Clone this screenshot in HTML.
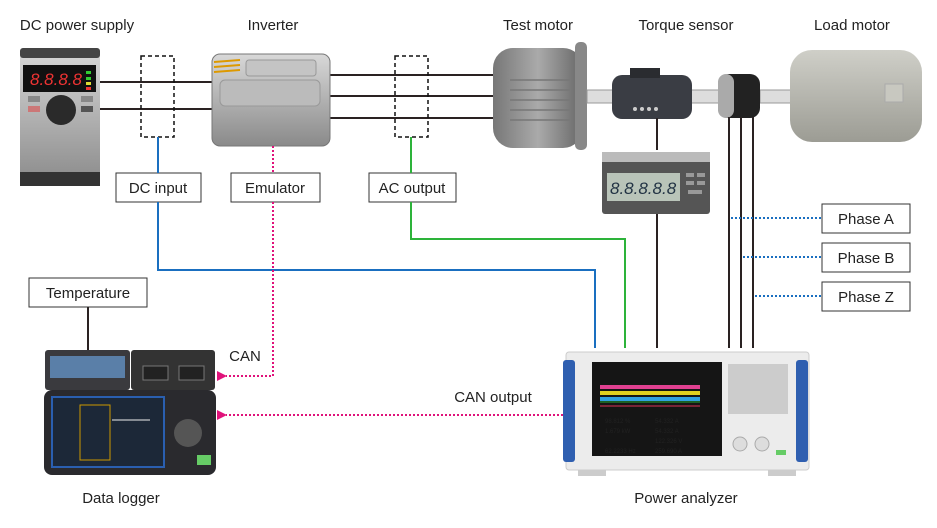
<!DOCTYPE html>
<html><head><meta charset="utf-8"><style>
html,body{margin:0;padding:0;background:#fff}
svg{display:block}
text{font-family:"Liberation Sans",Arial,sans-serif;fill:#222}
</style></head><body>
<svg width="937" height="528" viewBox="0 0 937 528" xmlns="http://www.w3.org/2000/svg">
<defs>
<linearGradient id="gray" x1="0" y1="0" x2="0" y2="1"><stop offset="0" stop-color="#d8d8d8"/><stop offset="1" stop-color="#8a8a8a"/></linearGradient>
<linearGradient id="motor" x1="0" y1="0" x2="1" y2="0"><stop offset="0" stop-color="#777"/><stop offset="0.5" stop-color="#aaa"/><stop offset="1" stop-color="#666"/></linearGradient>
<linearGradient id="load" x1="0" y1="0" x2="0" y2="1"><stop offset="0" stop-color="#cfcfc8"/><stop offset="1" stop-color="#9c9c94"/></linearGradient>
<marker id="ap" markerWidth="10" markerHeight="10" refX="1" refY="5" orient="auto" markerUnits="userSpaceOnUse"><path d="M10,0 L0,5 L10,10 Z" fill="#e0127a"/></marker>
</defs>

<g font-size="15">
<text x="77" y="30" text-anchor="middle">DC power supply</text>
<text x="273" y="30" text-anchor="middle">Inverter</text>
<text x="538" y="30" text-anchor="middle">Test motor</text>
<text x="686" y="30" text-anchor="middle">Torque sensor</text>
<text x="852" y="30" text-anchor="middle">Load motor</text>
<text x="121" y="503" text-anchor="middle">Data logger</text>
<text x="686" y="503" text-anchor="middle">Power analyzer</text>
</g>

<g stroke="#2a2222" stroke-width="2">
<line x1="100" y1="82" x2="215" y2="82"/><line x1="100" y1="109" x2="215" y2="109"/>
<line x1="328" y1="75" x2="497" y2="75"/><line x1="328" y1="96" x2="497" y2="96"/><line x1="328" y1="118" x2="497" y2="118"/>
</g>

<rect x="20" y="48" width="80" height="138" rx="4" fill="url(#gray)"/>
<rect x="20" y="48" width="80" height="10" rx="3" fill="#444"/>
<rect x="23" y="65" width="73" height="27" fill="#111"/>
<text x="30" y="85" font-size="17" style="fill:#e33" font-style="italic">8.8.8.8</text>
<rect x="86" y="71" width="5" height="3" fill="#3c3"/><rect x="86" y="77" width="5" height="3" fill="#3c3"/><rect x="86" y="82" width="5" height="3" fill="#dd3"/><rect x="86" y="87" width="5" height="3" fill="#e33"/>
<rect x="28" y="96" width="12" height="6" fill="#888"/><rect x="28" y="106" width="12" height="6" fill="#c77"/>
<rect x="81" y="96" width="12" height="6" fill="#888"/><rect x="81" y="106" width="12" height="6" fill="#555"/>
<circle cx="61" cy="110" r="15" fill="#2a2a2a"/>
<rect x="20" y="172" width="80" height="14" fill="#333"/>

<rect x="212" y="54" width="118" height="92" rx="8" fill="url(#gray)" stroke="#777"/>
<rect x="220" y="80" width="100" height="26" rx="5" fill="#bbb" stroke="#999"/>
<rect x="246" y="60" width="70" height="16" rx="3" fill="#c4c4c4" stroke="#999"/>
<g stroke="#d90" stroke-width="2"><line x1="214" y1="62" x2="240" y2="60"/><line x1="214" y1="67" x2="240" y2="65"/><line x1="214" y1="72" x2="240" y2="70"/></g>

<g fill="none" stroke="#111" stroke-width="1.5" stroke-dasharray="4,3">
<rect x="141" y="56" width="33" height="81"/><rect x="395" y="56" width="33" height="81"/>
</g>

<rect x="493" y="48" width="90" height="100" rx="20" fill="url(#motor)"/>
<g stroke="#777" stroke-width="1.5"><line x1="510" y1="80" x2="570" y2="80"/><line x1="510" y1="90" x2="570" y2="90"/><line x1="510" y1="100" x2="570" y2="100"/><line x1="510" y1="110" x2="570" y2="110"/><line x1="510" y1="120" x2="570" y2="120"/></g>
<rect x="575" y="42" width="12" height="108" rx="5" fill="#888"/>
<rect x="587" y="90" width="28" height="13" fill="#ddd" stroke="#999"/>
<rect x="690" y="90" width="30" height="13" fill="#ddd" stroke="#999"/>
<rect x="760" y="90" width="32" height="13" fill="#ddd" stroke="#999"/>
<rect x="612" y="75" width="80" height="44" rx="10" fill="#3a3d44"/>
<rect x="630" y="68" width="30" height="10" fill="#2a2c30"/>
<g fill="#ccc"><circle cx="635" cy="109" r="2"/><circle cx="642" cy="109" r="2"/><circle cx="649" cy="109" r="2"/><circle cx="656" cy="109" r="2"/></g>
<rect x="718" y="74" width="42" height="44" rx="10" fill="#222"/>
<rect x="718" y="74" width="16" height="44" rx="8" fill="#aaa"/>
<rect x="790" y="50" width="132" height="92" rx="22" fill="url(#load)"/>
<rect x="885" y="84" width="18" height="18" fill="#c8c8c0" stroke="#aaa"/>

<g stroke="#2a2222" stroke-width="2">
<line x1="657" y1="118" x2="657" y2="150"/><line x1="657" y1="213" x2="657" y2="348"/>
<line x1="729" y1="117" x2="729" y2="348"/><line x1="741" y1="117" x2="741" y2="348"/><line x1="753" y1="117" x2="753" y2="348"/>
</g>
<rect x="602" y="152" width="108" height="62" rx="3" fill="#555"/>
<rect x="602" y="152" width="108" height="10" fill="#bbb"/>
<rect x="607" y="173" width="73" height="28" fill="#b9c4b9"/>
<text x="610" y="194" font-size="17" font-style="italic" style="fill:#234">8.8.8.8.8</text>
<g fill="#999"><rect x="686" y="173" width="8" height="4"/><rect x="697" y="173" width="8" height="4"/><rect x="686" y="181" width="8" height="4"/><rect x="697" y="181" width="8" height="4"/><rect x="688" y="190" width="14" height="4"/></g>

<g stroke="#1a6fc0" stroke-width="2" stroke-dasharray="2,2">
<line x1="731" y1="218" x2="822" y2="218"/><line x1="743" y1="257" x2="822" y2="257"/><line x1="755" y1="296" x2="822" y2="296"/>
</g>
<g fill="#fff" stroke="#333" stroke-width="1">
<rect x="822" y="204" width="88" height="29"/><rect x="822" y="243" width="88" height="29"/><rect x="822" y="282" width="88" height="29"/>
<rect x="116" y="173" width="85" height="29"/><rect x="231" y="173" width="89" height="29"/><rect x="369" y="173" width="87" height="29"/>
<rect x="29" y="278" width="118" height="29"/>
</g>
<g font-size="15" text-anchor="middle">
<text x="866" y="224">Phase A</text><text x="866" y="263">Phase B</text><text x="866" y="302">Phase Z</text>
<text x="158" y="193">DC input</text><text x="275" y="193">Emulator</text><text x="412" y="193">AC output</text>
<text x="88" y="298">Temperature</text>
<text x="245" y="361">CAN</text><text x="493" y="402">CAN output</text>
</g>

<polyline points="158,137 158,173" fill="none" stroke="#1a6fc0" stroke-width="2"/>
<polyline points="158,202 158,270 595,270 595,348" fill="none" stroke="#1a6fc0" stroke-width="2"/>
<polyline points="411,137 411,173" fill="none" stroke="#2db33a" stroke-width="2"/>
<polyline points="411,202 411,239 625,239 625,348" fill="none" stroke="#2db33a" stroke-width="2"/>
<polyline points="273,146 273,173" fill="none" stroke="#e0127a" stroke-width="2" stroke-dasharray="2,2"/>
<polyline points="273,202 273,376 226,376" fill="none" stroke="#e0127a" stroke-width="2" stroke-dasharray="2,2" marker-end="url(#ap)"/>
<polyline points="563,415 226,415" fill="none" stroke="#e0127a" stroke-width="2" stroke-dasharray="2,2" marker-end="url(#ap)"/>
<line x1="88" y1="307" x2="88" y2="352" stroke="#2a2222" stroke-width="2"/>

<rect x="45" y="350" width="85" height="40" rx="3" fill="#3a3a3e"/>
<rect x="50" y="356" width="75" height="22" fill="#5a7fa8"/>
<rect x="131" y="350" width="84" height="40" rx="3" fill="#333"/>
<rect x="143" y="366" width="25" height="14" fill="#222" stroke="#777"/><rect x="179" y="366" width="25" height="14" fill="#222" stroke="#777"/>
<rect x="44" y="390" width="172" height="85" rx="8" fill="#2a2a2e"/>
<rect x="52" y="397" width="112" height="70" fill="#1c2838" stroke="#2a5fb0" stroke-width="2"/>
<rect x="80" y="405" width="30" height="55" fill="none" stroke="#c90"/>
<line x1="112" y1="420" x2="150" y2="420" stroke="#eee"/>
<circle cx="188" cy="433" r="14" fill="#555"/>
<rect x="197" y="455" width="14" height="10" fill="#6c6"/>

<rect x="566" y="352" width="243" height="118" rx="3" fill="#ececec" stroke="#ccc"/>
<rect x="563" y="360" width="12" height="102" rx="3" fill="#2f5fb0"/>
<rect x="796" y="360" width="12" height="102" rx="3" fill="#2f5fb0"/>
<rect x="592" y="362" width="130" height="94" fill="#151515"/>
<rect x="600" y="385" width="100" height="4" fill="#e04090"/><rect x="600" y="391" width="100" height="4" fill="#e0d020"/><rect x="600" y="397" width="100" height="4" fill="#30a0e0"/>
<line x1="600" y1="406" x2="700" y2="406" stroke="#d35"/><line x1="600" y1="402" x2="700" y2="402" stroke="#2a3"/>
<g font-size="6" style="fill:#ddd"><text x="605" y="423">98.812 %</text><text x="655" y="423">54.332 A</text><text x="605" y="433">1.679 kW</text><text x="655" y="433">54.332 A</text><text x="655" y="443">122.326 V</text><text x="605" y="453">62.2233 Hz</text><text x="655" y="453">259.690 A</text></g>
<rect x="728" y="364" width="60" height="50" fill="#ccc"/>
<circle cx="740" cy="444" r="7" fill="#ddd" stroke="#aaa"/><circle cx="762" cy="444" r="7" fill="#ddd" stroke="#aaa"/>
<rect x="776" y="450" width="10" height="5" fill="#6c6"/>
<rect x="578" y="470" width="28" height="6" fill="#ccc"/><rect x="768" y="470" width="28" height="6" fill="#ccc"/>
</svg>
</body></html>
